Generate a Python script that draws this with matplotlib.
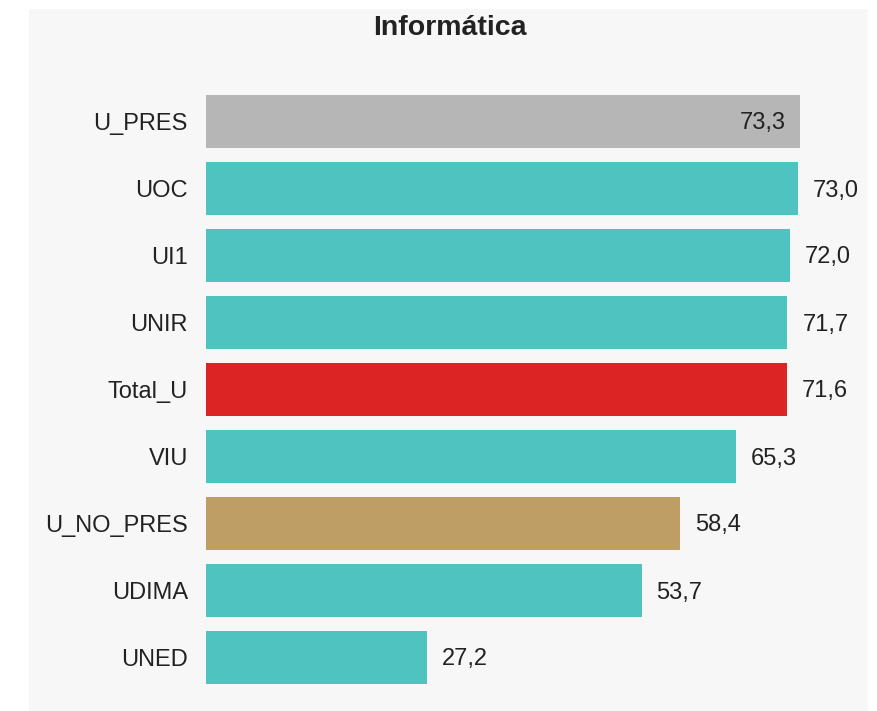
import matplotlib
matplotlib.use('Agg')
import matplotlib.pyplot as plt
from matplotlib.patches import Rectangle

# data
universidades = ['U_PRES', 'UOC', 'UI1', 'UNIR', 'Total_U', 'VIU', 'U_NO_PRES', 'UDIMA', 'UNED']
valores = [73.3, 73.0, 72.0, 71.7, 71.6, 65.3, 58.4, 53.7, 27.2]
colores = {'U_PRES': '#b6b6b6', 'Total_U': '#dc2424', 'U_NO_PRES': '#bf9e66'}
color_base = '#4ec3bf'

W, H = 877, 711
fig = plt.figure(figsize=(W / 100, H / 100), dpi=100, facecolor='white')

# grey panel behind the chart
fig.patches.append(Rectangle((29 / W, 0), (868 - 29) / W, (H - 9) / H,
                             transform=fig.transFigure, facecolor='#f7f7f7',
                             edgecolor='none', zorder=-10))

px = 8.11  # pixels per unit
left, right, top, bottom = 206, 868, 88, 691
ax = fig.add_axes([left / W, 1 - bottom / H, (right - left) / W, (bottom - top) / H])
ax.set_facecolor('none')
ax.set_zorder(1)

cols = [colores.get(u, color_base) for u in universidades]
bars = ax.barh(range(len(universidades)), valores, height=0.79, color=cols)
ax.set_xlim(0, (right - left) / px)
ax.set_ylim(len(universidades) - 0.5, -0.5)

fuente = 'Liberation Sans'
for s in ax.spines.values():
    s.set_visible(False)
ax.set_xticks([])
ax.set_yticks(range(len(universidades)))
ax.set_yticklabels(universidades, fontsize=17, color='#222222', family=fuente)
ax.tick_params(axis='y', length=0, pad=13)

vmax = max(valores)
for b, v in zip(bars, valores):
    txt = f'{v:.1f}'.replace('.', ',')
    y = b.get_y() + b.get_height() / 2
    if v == vmax:
        ax.annotate(txt, (v, y), xytext=(-15, -2), textcoords='offset pixels',
                    ha='right', va='center', fontsize=17, color='#222222', family=fuente)
    else:
        ax.annotate(txt, (v, y), xytext=(15, -2), textcoords='offset pixels',
                    ha='left', va='center', fontsize=17, color='#222222', family=fuente)

fig.text(450 / W, 1 - 28 / H, 'Informática', ha='center', va='center',
         fontsize=20.5, fontweight='bold', color='#222222', family=fuente)

fig.savefig('out.png', dpi=100)
